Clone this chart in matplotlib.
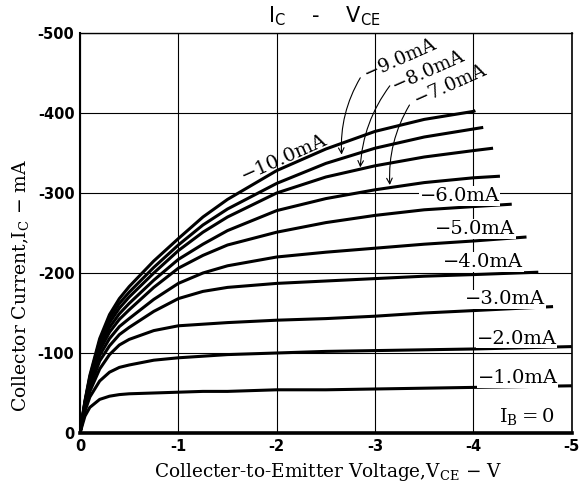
import matplotlib
matplotlib.use('Agg')
import matplotlib.pyplot as plt

plt.rcParams['axes.unicode_minus'] = False

# collector-emitter voltage (V) shared by every curve, then each curve's end point
v_grid = [0, -0.05, -0.1, -0.2, -0.3, -0.4, -0.5, -0.75, -1.0, -1.25, -1.5,
          -2.0, -2.5, -3.0, -3.5, -4.0]

# collector current (mA), one list per base current
ic_10ma = [0, -40, -72, -118, -148, -168, -183, -215, -243, -270, -292, -328, -355, -377, -392, -402]
ic_9ma = [0, -39, -70, -115, -143, -162, -176, -207, -235, -260, -280, -312, -337, -356, -370, -380]
ic_8ma = [0, -38, -68, -111, -138, -156, -170, -200, -228, -251, -270, -300, -320, -334, -345, -353]
ic_7ma = [0, -37, -66, -107, -132, -149, -162, -191, -217, -236, -253, -278, -293, -304, -313, -319]
ic_6ma = [0, -36, -64, -103, -126, -142, -154, -182, -206, -222, -235, -251, -263, -272, -279, -283]
ic_5ma = [0, -35, -61, -97, -118, -133, -143, -167, -187, -200, -209, -220, -226, -231, -236, -240]
ic_4ma = [0, -33, -57, -90, -109, -123, -132, -152, -168, -177, -182, -187, -190, -193, -196, -198]
ic_3ma = [0, -31, -52, -80, -98, -110, -117, -128, -134, -136, -138, -141, -143, -146, -150, -153]
ic_2ma = [0, -27, -45, -65, -76, -82, -85, -91, -94, -96, -98, -100, -102, -103, -104, -105]
ic_1ma = [0, -21, -32, -42, -46, -48, -49, -50, -51, -52, -52, -54, -54, -55, -56, -57]

curves = [ic_10ma, ic_9ma, ic_8ma, ic_7ma, ic_6ma, ic_5ma, ic_4ma, ic_3ma, ic_2ma, ic_1ma]
v_end = [-4.02, -4.1, -4.2, -4.27, -4.39, -4.54, -4.66, -4.81, -5.0, -5.0]
ic_end = [-403, -382, -356, -321, -286, -245, -201, -158, -108, -59]

x_ticks = [0, -1, -2, -3, -4, -5]
x_tick_labels = ['0', '-1', '-2', '-3', '-4', '-5']
y_ticks = [0, -100, -200, -300, -400, -500]
y_tick_labels = ['0', '-100', '-200', '-300', '-400', '-500']

serif = ['DejaVu Serif', 'Liberation Serif']

fig = plt.figure(figsize=(5.84, 4.94), dpi=100)
ax = fig.add_axes([0.137, 0.1235, 0.842, 0.8097])

for ic, ve, ie in zip(curves, v_end, ic_end):
    ax.plot(v_grid + [ve], ic + [ie], color='black', lw=2.2,
            solid_capstyle='butt', zorder=3)

ax.set_xlim(0, -5)
ax.set_ylim(0, -500)
ax.set_xticks(x_ticks)
ax.set_xticklabels(x_tick_labels, fontsize=10.5, fontweight='bold')
ax.set_yticks(y_ticks)
ax.set_yticklabels(y_tick_labels, fontsize=10.5, fontweight='bold')
ax.tick_params(length=0, pad=4)
ax.grid(True, color='black', lw=0.8)

ax.spines['bottom'].set_linewidth(2.6)
ax.spines['left'].set_linewidth(1.5)
ax.spines['top'].set_linewidth(1.0)
ax.spines['right'].set_linewidth(1.2)

ax.set_xlabel('Collecter-to-Emitter Voltage,V$_\\mathregular{CE}$ \u2212 V',
              family=serif, fontsize=13.3)
ax.xaxis.set_label_coords(0.504, -0.07)
ax.set_ylabel('Collector Current,I$_\\mathregular{C}$ \u2212 mA',
              family=serif, fontsize=13.5)
ax.yaxis.set_label_coords(-0.097, 0.37)

fig.text(0.555, 0.968, 'I$_\\mathregular{C}$    -    V$_\\mathregular{CE}$',
         ha='center', va='center', fontsize=15)

# labels along the curves
ax.text(-2.08, -344, '\u221210.0mA', rotation=24, ha='center', va='center',
        family=serif, fontsize=14, zorder=4)

arrow_labels = ['\u22129.0mA', '\u22128.0mA', '\u22127.0mA']
arrow_text_pos = [(-3.25, -468), (-3.54, -453), (-3.76, -435)]
arrow_start = [(-2.85, -444), (-3.15, -434), (-3.35, -410)]
arrow_tip = [(-2.66, -348), (-2.85, -332), (-3.15, -310)]
for lab, tp, st, tip in zip(arrow_labels, arrow_text_pos, arrow_start, arrow_tip):
    ax.text(tp[0], tp[1], lab, rotation=24, ha='center', va='center',
            family=serif, fontsize=13.5, zorder=4)
    ax.annotate('', xy=tip, xytext=st,
                arrowprops=dict(arrowstyle='->', lw=0.8, color='black',
                                shrinkA=0, shrinkB=0,
                                connectionstyle='arc3,rad=0.15'))

flat_labels = ['\u22126.0mA', '\u22125.0mA', '\u22124.0mA', '\u22123.0mA',
               '\u22122.0mA', '\u22121.0mA', 'I$_\\mathregular{B}$\u2009=\u20090']
flat_pos = [(-3.86, -296), (-4.02, -255), (-4.1, -214), (-4.32, -167),
            (-4.44, -118), (-4.45, -69), (-4.54, -19)]
for lab, p in zip(flat_labels, flat_pos):
    ax.text(p[0], p[1], lab, ha='center', va='center', family=serif,
            fontsize=14, zorder=4,
            bbox=dict(facecolor='white', edgecolor='none', pad=0.5))

fig.savefig('out.png', dpi=100)
